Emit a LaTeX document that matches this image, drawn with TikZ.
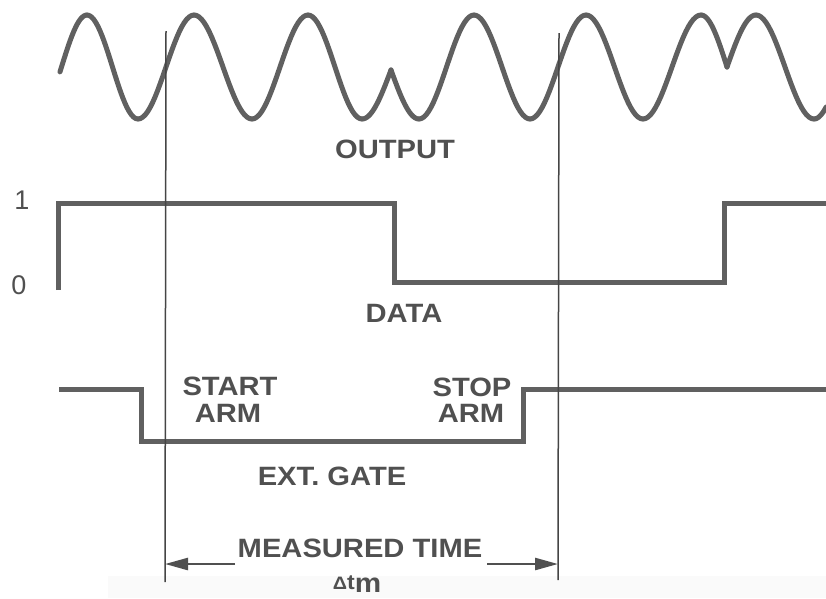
\documentclass[tikz,border=0pt]{standalone}
\usepackage{fontspec}
\setmainfont{Liberation Sans}
\newfontfamily\labfont[FakeStretch=1.1]{Liberation Sans Bold}
\usetikzlibrary{arrows.meta}
\definecolor{wavegray}{HTML}{606060}
\definecolor{txtgray}{HTML}{505050}
\definecolor{linegray}{HTML}{454545}
\tikzset{
  sig/.style={draw=wavegray, line width=5pt, line join=miter},
  wav/.style={draw=wavegray, line width=5pt, line cap=round, line join=round},
  marker/.style={draw=linegray, line width=1.5pt},
  lab/.style={text=txtgray, font=\labfont\fontsize{26.5}{26.5}\selectfont, inner sep=0pt, align=center},
  num/.style={text=txtgray, font=\fontsize{27}{27}\selectfont, inner sep=0pt},
  dim/.style={draw=txtgray, line width=2.5pt, -{Triangle[length=23pt,width=12pt]}},
}
\begin{document}
\begin{tikzpicture}[x=1pt,y=-1pt]
\useasboundingbox (0,0) rectangle (826,598);
\fill[black!2] (108,576) rectangle (826,598);

% output wave
\draw[wav] plot[domain=0.47:1, samples=20] ({36+51*\x},{67+52*cos(180*\x)});
\foreach \xa/\ya/\xb/\yb in {87/15/138/119, 138/119/194/15, 194/15/252/119, 252/119/308/15,
  308/15/362/119, 419/119/474/15, 474/15/530/119, 530/119/586/15, 586/15/643/119,
  643/119/701/15, 756/15/814/119}
  \draw[wav] plot[domain=0:1, samples=24] ({\xa+(\xb-\xa)*\x},{(\ya+\yb)/2+(\ya-\yb)/2*cos(180*\x)});
% into cusps
\foreach \xa/\ya/\xb/\yb in {362/119/391/70, 701/15/727/67}
  \draw[wav] plot[domain=0:1, samples=20] ({\xa+(\xb-\xa)*\x},{\yb+(\ya-\yb)*cos(90*\x)});
% out of cusps
\foreach \xa/\ya/\xb/\yb in {391/70/419/119, 727/67/756/15}
  \draw[wav] plot[domain=0:1, samples=20] ({\xa+(\xb-\xa)*\x},{\ya+(\yb-\ya)*sin(90*\x)});
\draw[wav] plot[domain=0:0.22, samples=10] ({814+55*\x},{67+52*cos(180*\x)});

% data signal
\coordinate (d0) at (58,290);
\coordinate (d1) at (58,203);
\coordinate (d2) at (394,203);
\coordinate (d3) at (394,282);
\coordinate (d4) at (724,282);
\coordinate (d5) at (724,203);
\coordinate (d6) at (826,203);
\draw[sig] (d0) -- (d1) -- (d2) -- (d3) -- (d4) -- (d5) -- (d6);

% ext gate
\coordinate (g0) at (59,389);
\coordinate (g1) at (141,389);
\coordinate (g2) at (141,441);
\coordinate (g3) at (523,441);
\coordinate (g4) at (523,389);
\coordinate (g5) at (826,389);
\draw[sig] (g0) -- (g1) -- (g2) -- (g3) -- (g4) -- (g5);

% marker lines
\coordinate (lt) at (166,31);
\coordinate (lb) at (165,582);
\coordinate (rt) at (559,33);
\coordinate (rb) at (558,580);
\draw[marker] (lt) -- (lb);
\draw[marker] (rt) -- (rb);

% labels
\node[num] (one) at (22,200) {1};
\node[num] (zero) at (19,285) {0};
\node[lab] (output) at (395,149) {OUTPUT};
\node[lab] (data) at (404,313) {DATA};
\node[lab] (start) at (230,386) {START};
\node[lab] (startarm) at (228,413) {ARM};
\node[lab] (stop) at (472,387) {STOP};
\node[lab] (stoparm) at (471,413) {ARM};
\node[lab] (gate) at (332,476) {EXT. GATE};
\node[lab] (meas) at (360,548) {MEASURED TIME};
\node[text=txtgray, inner sep=0pt] (dtm) at (357,584) {\labfont\fontsize{18}{18}\selectfont Δ\fontsize{21}{21}\selectfont t\raisebox{-3pt}{\fontsize{27}{27}\selectfont m}};

% dimension arrows
\coordinate (al) at (235,564);
\coordinate (ar) at (487,564);
\draw[dim] (al) -- (lb |- al);
\draw[dim] (ar) -- (rb |- ar);
\end{tikzpicture}
\end{document}
